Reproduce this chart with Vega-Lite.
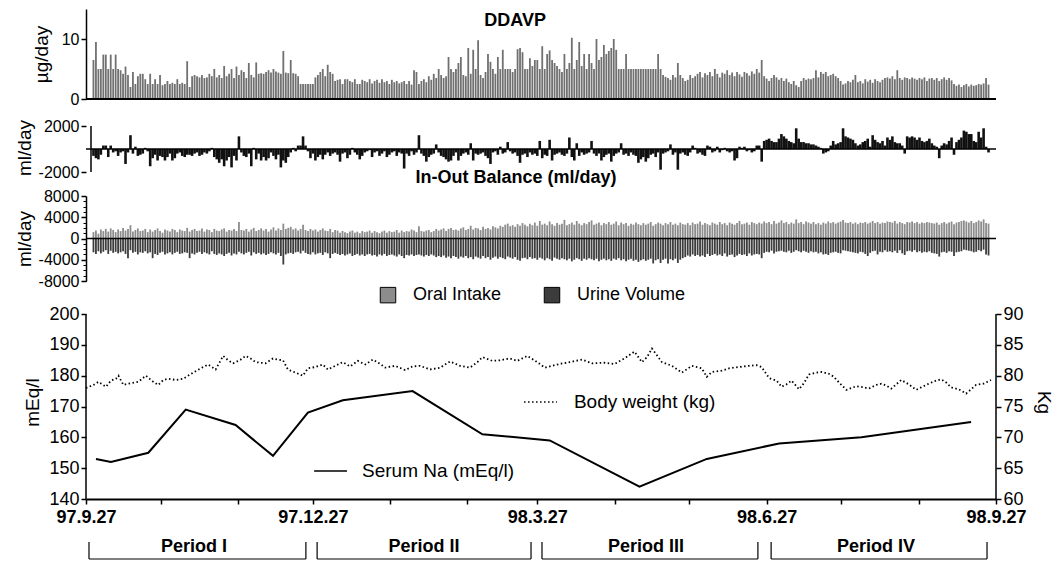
{
"$schema": "https://vega.github.io/schema/vega-lite/v6.json",
"background": "white",
"padding": {"left": 15, "top": 9, "right": 5, "bottom": 0},
"config": {
  "view": {"stroke": null},
  "font": "Liberation Sans",
  "axis": {"domainColor": "#000", "tickColor": "#000", "labelColor": "#000", "titleColor": "#000", "grid": false, "labelFont": "Liberation Sans", "titleFont": "Liberation Sans", "labelFontSize": 16, "titleFontSize": 19, "titleFontWeight": "normal", "domainWidth": 1.5, "tickWidth": 1.5, "tickSize": 5, "labelPadding": 2, "labelOverlap": false},
  "text": {"font": "Liberation Sans", "color": "#000"}
},
"datasets": {
"na": [{"d":4,"v":153},{"d":10,"v":152},{"d":25,"v":155},{"d":40,"v":169},{"d":60,"v":164},{"d":75,"v":154},{"d":89,"v":168},{"d":103,"v":172},{"d":131,"v":175},{"d":159,"v":161},{"d":186,"v":159},{"d":222,"v":144},{"d":249,"v":153},{"d":278,"v":158},{"d":311,"v":160},{"d":355,"v":165}],
"wt": [{"d":0,"w":78},{"d":3,"w":78.5},{"d":5,"w":79},{"d":8,"w":78.2},{"d":10,"w":79.2},{"d":12,"w":79.5},{"d":13,"w":80},{"d":15,"w":78.5},{"d":18,"w":78.8},{"d":21,"w":79},{"d":24,"w":80},{"d":27,"w":79},{"d":29,"w":78.5},{"d":31,"w":79.3},{"d":33,"w":79.5},{"d":36,"w":79.3},{"d":39,"w":79.5},{"d":43,"w":80.5},{"d":46,"w":81.2},{"d":49,"w":81.8},{"d":52,"w":81},{"d":55,"w":83.2},{"d":57,"w":82.5},{"d":59,"w":82},{"d":62,"w":82.6},{"d":64,"w":83.2},{"d":66,"w":82.8},{"d":68,"w":82.2},{"d":72,"w":82},{"d":75,"w":82.8},{"d":77,"w":82.6},{"d":79,"w":82.5},{"d":81,"w":81},{"d":84,"w":80.5},{"d":87,"w":80},{"d":89,"w":81.2},{"d":92,"w":81.4},{"d":95,"w":81.8},{"d":97,"w":81},{"d":100,"w":81.6},{"d":103,"w":82.2},{"d":106,"w":81.5},{"d":109,"w":82.4},{"d":112,"w":81.8},{"d":115,"w":82.6},{"d":118,"w":81.9},{"d":120,"w":81.3},{"d":124,"w":81.6},{"d":128,"w":80.9},{"d":131,"w":81.5},{"d":134,"w":81.6},{"d":138,"w":81},{"d":142,"w":81.3},{"d":146,"w":82.3},{"d":150,"w":81.6},{"d":154,"w":81.3},{"d":157,"w":82.2},{"d":159,"w":83},{"d":163,"w":82.4},{"d":166,"w":82.5},{"d":170,"w":82.8},{"d":173,"w":82.4},{"d":175,"w":82.8},{"d":177,"w":83.2},{"d":181,"w":82.2},{"d":184,"w":81.3},{"d":187,"w":81.6},{"d":190,"w":81.9},{"d":194,"w":82.2},{"d":199,"w":82.6},{"d":203,"w":82},{"d":208,"w":82.1},{"d":212,"w":81.9},{"d":216,"w":82.8},{"d":220,"w":83.9},{"d":223,"w":82.2},{"d":225,"w":83},{"d":227,"w":84.4},{"d":229,"w":83.3},{"d":231,"w":82.2},{"d":235,"w":81.6},{"d":239,"w":80.5},{"d":243,"w":81.6},{"d":247,"w":81.2},{"d":249,"w":79.8},{"d":251,"w":80.6},{"d":255,"w":80.8},{"d":258,"w":81.2},{"d":262,"w":81.4},{"d":266,"w":81.6},{"d":269,"w":81.7},{"d":271,"w":81.4},{"d":274,"w":79.6},{"d":277,"w":79.2},{"d":279,"w":78.2},{"d":281,"w":78.6},{"d":283,"w":79.2},{"d":286,"w":77.8},{"d":288,"w":78.8},{"d":290,"w":80.2},{"d":293,"w":80.5},{"d":295,"w":80.6},{"d":298,"w":80.3},{"d":300,"w":79.8},{"d":302,"w":78.9},{"d":305,"w":77.7},{"d":309,"w":78.3},{"d":312,"w":78.1},{"d":314,"w":77.9},{"d":317,"w":78.5},{"d":319,"w":78.7},{"d":321,"w":78.4},{"d":323,"w":77.9},{"d":325,"w":78.6},{"d":327,"w":79.3},{"d":330,"w":78.6},{"d":333,"w":77.7},{"d":336,"w":78.3},{"d":338,"w":78.7},{"d":341,"w":79.2},{"d":343,"w":79.4},{"d":345,"w":78.9},{"d":347,"w":78.1},{"d":350,"w":77.8},{"d":353,"w":77.1},{"d":355,"w":77.8},{"d":357,"w":78.5},{"d":360,"w":78.7},{"d":363,"w":79.3}],
"per": [{"p":"Period I","s":1.2,"e":88.2,"c":43.3},{"p":"Period II","s":92.7,"e":178.5,"c":135.6},{"p":"Period III","s":182.9,"e":269.5,"c":224.6},{"p":"Period IV","s":274.8,"e":361.4,"c":316.9}],
"daily": [
{"d":1,"a":6.5,"b":-600,"o":1200,"u":-2600},{"d":2,"a":9.5,"b":-800,"o":1500,"u":-2900},{"d":3,"a":5,"b":-900,"o":900,"u":-2400},{"d":4,"a":5,"b":-500,"o":1700,"u":-2800},{"d":5,"a":7.4,"b":300,"o":1400,"u":-2500},{"d":6,"a":7.4,"b":300,"o":1800,"u":-2200},{"d":7,"a":5,"b":-700,"o":1300,"u":-2900},{"d":8,"a":7.4,"b":300,"o":1900,"u":-2300},{"d":9,"a":5,"b":-300,"o":1600,"u":-2700},{"d":10,"a":7.4,"b":-200,"o":1200,"u":-2500},
{"d":11,"a":5,"b":-600,"o":1700,"u":-2800},{"d":12,"a":4.8,"b":-300,"o":1400,"u":-2600},{"d":13,"a":4.2,"b":-200,"o":2000,"u":-2400},{"d":14,"a":5.4,"b":-1300,"o":1500,"u":-2900},{"d":15,"a":4,"b":-300,"o":1800,"u":-3700},{"d":16,"a":2,"b":1200,"o":2500,"u":-2200},{"d":17,"a":4.5,"b":-400,"o":1300,"u":-2700},{"d":18,"a":2.5,"b":200,"o":1600,"u":-2500},{"d":19,"a":3.8,"b":-600,"o":1900,"u":-3000},{"d":20,"a":4.2,"b":-500,"o":1400,"u":-2600},
{"d":21,"a":4.2,"b":-400,"o":1500,"u":-2700},{"d":22,"a":3.3,"b":100,"o":1800,"u":-2400},{"d":23,"a":2.5,"b":-200,"o":1200,"u":-2800},{"d":24,"a":4.2,"b":-1500,"o":1700,"u":-2600},{"d":25,"a":2.5,"b":-800,"o":1300,"u":-3700},{"d":26,"a":3.3,"b":-500,"o":1600,"u":-2900},{"d":27,"a":2.5,"b":-1000,"o":1900,"u":-3100},{"d":28,"a":4,"b":-600,"o":1400,"u":-2700},{"d":29,"a":2.3,"b":-700,"o":1100,"u":-2500},{"d":30,"a":2.5,"b":-1000,"o":1700,"u":-3000},
{"d":31,"a":3,"b":-700,"o":1500,"u":-2800},{"d":32,"a":2.5,"b":-400,"o":1300,"u":-2600},{"d":33,"a":2.7,"b":-1000,"o":1800,"u":-3000},{"d":34,"a":2.5,"b":-800,"o":1600,"u":-2700},{"d":35,"a":3.3,"b":-400,"o":1200,"u":-2500},{"d":36,"a":2.5,"b":-300,"o":1700,"u":-2900},{"d":37,"a":2.7,"b":-600,"o":1500,"u":-2800},{"d":38,"a":2.5,"b":-700,"o":1400,"u":-2600},{"d":39,"a":6.3,"b":-500,"o":2000,"u":-2700},{"d":40,"a":2,"b":-500,"o":1300,"u":-3700},
{"d":41,"a":3.8,"b":-600,"o":1600,"u":-2800},{"d":42,"a":4,"b":-400,"o":1800,"u":-3000},{"d":43,"a":3.8,"b":-300,"o":1400,"u":-2700},{"d":44,"a":3.6,"b":-600,"o":1500,"u":-2500},{"d":45,"a":4,"b":-500,"o":1900,"u":-2900},{"d":46,"a":3.5,"b":-300,"o":1300,"u":-2600},{"d":47,"a":3.6,"b":-400,"o":1700,"u":-2800},{"d":48,"a":4.2,"b":-200,"o":1600,"u":-3000},{"d":49,"a":3.8,"b":100,"o":1200,"u":-2400},{"d":50,"a":5,"b":-700,"o":1800,"u":-2900},
{"d":51,"a":3.6,"b":-900,"o":1500,"u":-3100},{"d":52,"a":4,"b":-1200,"o":1400,"u":-2800},{"d":53,"a":3.5,"b":-900,"o":1700,"u":-3000},{"d":54,"a":5.5,"b":-1500,"o":1900,"u":-3300},{"d":55,"a":3.8,"b":-1000,"o":1300,"u":-2900},{"d":56,"a":4.2,"b":-700,"o":1600,"u":-2700},{"d":57,"a":5,"b":-1600,"o":1500,"u":-3200},{"d":58,"a":3.5,"b":-600,"o":1800,"u":-2800},{"d":59,"a":5.4,"b":-1000,"o":1400,"u":-3000},{"d":60,"a":4,"b":1100,"o":3100,"u":-2500},
{"d":61,"a":4.8,"b":-300,"o":1600,"u":-2800},{"d":62,"a":4.5,"b":-600,"o":1500,"u":-3000},{"d":63,"a":3.5,"b":-700,"o":1800,"u":-2700},{"d":64,"a":6,"b":-400,"o":1300,"u":-2500},{"d":65,"a":4,"b":-1500,"o":1700,"u":-3200},{"d":66,"a":3.6,"b":100,"o":2000,"u":-2600},{"d":67,"a":6.1,"b":-900,"o":1400,"u":-2900},{"d":68,"a":4.2,"b":-400,"o":1600,"u":-2700},{"d":69,"a":4.3,"b":-1000,"o":1900,"u":-3000},{"d":70,"a":4.2,"b":-700,"o":1500,"u":-2800},
{"d":71,"a":4.5,"b":-1000,"o":1800,"u":-3100},{"d":72,"a":4.8,"b":-800,"o":1300,"u":-2900},{"d":73,"a":4.4,"b":-300,"o":1700,"u":-2600},{"d":74,"a":5,"b":-600,"o":2100,"u":-2800},{"d":75,"a":4.6,"b":-900,"o":1500,"u":-3000},{"d":76,"a":4.4,"b":-500,"o":1900,"u":-2700},{"d":77,"a":4.2,"b":-1600,"o":1600,"u":-3300},{"d":78,"a":8,"b":-1000,"o":2800,"u":-4900},{"d":79,"a":4.4,"b":-1200,"o":1800,"u":-3000},{"d":80,"a":4.3,"b":-700,"o":2000,"u":-2800},
{"d":81,"a":6.5,"b":-300,"o":2200,"u":-2700},{"d":82,"a":4.3,"b":100,"o":1700,"u":-2900},{"d":83,"a":4.2,"b":-200,"o":1900,"u":-2600},{"d":84,"a":3.8,"b":300,"o":1500,"u":-2500},{"d":85,"a":2.5,"b":300,"o":1800,"u":-2800},{"d":86,"a":2.5,"b":1100,"o":2600,"u":-2300},{"d":87,"a":2.5,"b":300,"o":1600,"u":-2700},{"d":88,"a":2.5,"b":-200,"o":1400,"u":-2900},{"d":89,"a":2.5,"b":-800,"o":1800,"u":-3000},{"d":90,"a":2.5,"b":-400,"o":1500,"u":-2600},
{"d":91,"a":3.6,"b":-1000,"o":1700,"u":-3000},{"d":92,"a":4,"b":-700,"o":1300,"u":-2800},{"d":93,"a":4.5,"b":-500,"o":1600,"u":-2700},{"d":94,"a":5,"b":-900,"o":1900,"u":-3100},{"d":95,"a":3.8,"b":-500,"o":1500,"u":-2600},{"d":96,"a":5.7,"b":-300,"o":1400,"u":-2800},{"d":97,"a":4.5,"b":-600,"o":1800,"u":-3700},{"d":98,"a":4.2,"b":-400,"o":1200,"u":-2900},{"d":99,"a":3,"b":-300,"o":1600,"u":-2700},{"d":100,"a":3.2,"b":-500,"o":1500,"u":-2900},
{"d":101,"a":3.3,"b":-1100,"o":1100,"u":-3100},{"d":102,"a":2.5,"b":-400,"o":1400,"u":-2900},{"d":103,"a":3.3,"b":-300,"o":1200,"u":-3200},{"d":104,"a":3.3,"b":-800,"o":1000,"u":-3000},{"d":105,"a":3,"b":-500,"o":1300,"u":-2800},{"d":106,"a":2.8,"b":100,"o":1500,"u":-3300},{"d":107,"a":3.3,"b":-300,"o":1100,"u":-3100},{"d":108,"a":2.5,"b":-500,"o":1300,"u":-2900},{"d":109,"a":2.5,"b":-900,"o":1000,"u":-3200},{"d":110,"a":3.2,"b":-600,"o":1400,"u":-3000},
{"d":111,"a":3,"b":-300,"o":1200,"u":-3300},{"d":112,"a":2.8,"b":-200,"o":1300,"u":-3000},{"d":113,"a":3.3,"b":-100,"o":1500,"u":-2900},{"d":114,"a":2.6,"b":-700,"o":1100,"u":-3200},{"d":115,"a":3,"b":-300,"o":1400,"u":-3100},{"d":116,"a":3.2,"b":-200,"o":1200,"u":-3400},{"d":117,"a":2.7,"b":-600,"o":1000,"u":-3000},{"d":118,"a":3.3,"b":-400,"o":1300,"u":-3200},{"d":119,"a":2.8,"b":-200,"o":1500,"u":-2900},{"d":120,"a":3,"b":-700,"o":1100,"u":-3300},
{"d":121,"a":2.5,"b":-500,"o":1400,"u":-3100},{"d":122,"a":3.2,"b":-300,"o":1200,"u":-3000},{"d":123,"a":2.8,"b":-200,"o":1300,"u":-3200},{"d":124,"a":3,"b":-600,"o":1600,"u":-3400},{"d":125,"a":2.6,"b":-300,"o":1100,"u":-3000},{"d":126,"a":2.8,"b":-400,"o":1500,"u":-3300},{"d":127,"a":3,"b":-1700,"o":1200,"u":-3700},{"d":128,"a":2.5,"b":-400,"o":1400,"u":-3100},{"d":129,"a":3,"b":-600,"o":1300,"u":-3200},{"d":130,"a":2.4,"b":-200,"o":1700,"u":-3000},
{"d":131,"a":4.8,"b":-500,"o":1500,"u":-3300},{"d":132,"a":4.5,"b":-300,"o":1200,"u":-3100},{"d":133,"a":2.5,"b":1200,"o":2300,"u":-3000},{"d":134,"a":3,"b":-400,"o":1400,"u":-3200},{"d":135,"a":3.3,"b":-600,"o":1300,"u":-3400},{"d":136,"a":2.8,"b":-1100,"o":1500,"u":-3100},{"d":137,"a":3.8,"b":-700,"o":1600,"u":-3300},{"d":138,"a":3.2,"b":-500,"o":1200,"u":-3000},{"d":139,"a":4.2,"b":-400,"o":1400,"u":-3200},{"d":140,"a":3.5,"b":400,"o":1800,"u":-3500},
{"d":141,"a":5,"b":-300,"o":1500,"u":-3300},{"d":142,"a":4,"b":-600,"o":1700,"u":-3500},{"d":143,"a":3.5,"b":-700,"o":1900,"u":-3200},{"d":144,"a":3.8,"b":-900,"o":1400,"u":-3600},{"d":145,"a":7,"b":-1100,"o":1800,"u":-3400},{"d":146,"a":5,"b":-1000,"o":2000,"u":-3700},{"d":147,"a":4.5,"b":-600,"o":1600,"u":-3300},{"d":148,"a":5,"b":-300,"o":1700,"u":-3500},{"d":149,"a":6,"b":-1000,"o":1500,"u":-3800},{"d":150,"a":7,"b":-600,"o":1900,"u":-3400},
{"d":151,"a":4,"b":-400,"o":2100,"u":-3600},{"d":152,"a":3.8,"b":-300,"o":1600,"u":-3300},{"d":153,"a":8.5,"b":-500,"o":1800,"u":-3700},{"d":154,"a":4.2,"b":500,"o":2400,"u":-3500},{"d":155,"a":8.2,"b":-1000,"o":1700,"u":-3900},{"d":156,"a":5,"b":-400,"o":2000,"u":-3400},{"d":157,"a":9.8,"b":-500,"o":1900,"u":-3600},{"d":158,"a":4,"b":-400,"o":1600,"u":-3800},{"d":159,"a":3.5,"b":-300,"o":2200,"u":-3300},{"d":160,"a":4.5,"b":-600,"o":1800,"u":-3700},
{"d":161,"a":7.5,"b":-800,"o":2000,"u":-3500},{"d":162,"a":6.2,"b":-1300,"o":1700,"u":-4000},{"d":163,"a":5,"b":-300,"o":2300,"u":-3600},{"d":164,"a":4.2,"b":-200,"o":2100,"u":-3400},{"d":165,"a":7,"b":-500,"o":1900,"u":-3800},{"d":166,"a":5,"b":200,"o":2400,"u":-3500},{"d":167,"a":8.2,"b":-400,"o":2200,"u":-3700},{"d":168,"a":5,"b":-300,"o":2600,"u":-3900},{"d":169,"a":5,"b":600,"o":2800,"u":-3400},{"d":170,"a":5,"b":-200,"o":2300,"u":-3600},
{"d":171,"a":4.5,"b":-400,"o":2500,"u":-3800},{"d":172,"a":5,"b":-300,"o":2200,"u":-3500},{"d":173,"a":8.3,"b":-600,"o":2700,"u":-4000},{"d":174,"a":8.5,"b":-1200,"o":2400,"u":-4200},{"d":175,"a":7.8,"b":-500,"o":2900,"u":-3700},{"d":176,"a":5,"b":-400,"o":2600,"u":-3600},{"d":177,"a":5,"b":-700,"o":2300,"u":-3900},{"d":178,"a":6.8,"b":-300,"o":2800,"u":-3500},{"d":179,"a":5.5,"b":-500,"o":2500,"u":-3800},{"d":180,"a":6.5,"b":-400,"o":3000,"u":-3700},
{"d":181,"a":6.5,"b":-600,"o":2400,"u":-4000},{"d":182,"a":5,"b":700,"o":3300,"u":-3600},{"d":183,"a":8.8,"b":-800,"o":2600,"u":-3800},{"d":184,"a":5,"b":-500,"o":2800,"u":-4100},{"d":185,"a":7.5,"b":-600,"o":2500,"u":-3700},{"d":186,"a":8.1,"b":800,"o":3200,"u":-3900},{"d":187,"a":6.5,"b":-1000,"o":2700,"u":-4200},{"d":188,"a":6,"b":-500,"o":2400,"u":-3600},{"d":189,"a":5.5,"b":-400,"o":2900,"u":-3800},{"d":190,"a":5,"b":-300,"o":2600,"u":-4000},
{"d":191,"a":4.5,"b":-500,"o":2800,"u":-3700},{"d":192,"a":7.5,"b":-600,"o":3500,"u":-3900},{"d":193,"a":5,"b":-400,"o":2500,"u":-4100},{"d":194,"a":6,"b":1000,"o":2700,"u":-3800},{"d":195,"a":10.2,"b":-700,"o":3000,"u":-4300},{"d":196,"a":5,"b":-1000,"o":2600,"u":-4000},{"d":197,"a":6.5,"b":500,"o":3300,"u":-3700},{"d":198,"a":9.5,"b":-600,"o":2800,"u":-3900},{"d":199,"a":5.5,"b":-300,"o":2500,"u":-4200},{"d":200,"a":7.5,"b":-500,"o":2900,"u":-3800},
{"d":201,"a":5,"b":-400,"o":2700,"u":-4000},{"d":202,"a":7.5,"b":-300,"o":3100,"u":-3700},{"d":203,"a":6,"b":700,"o":3400,"u":-3900},{"d":204,"a":5,"b":-400,"o":2600,"u":-4100},{"d":205,"a":10,"b":-600,"o":2800,"u":-3800},{"d":206,"a":6.5,"b":-400,"o":3000,"u":-4300},{"d":207,"a":7,"b":-1000,"o":2500,"u":-4000},{"d":208,"a":9,"b":-700,"o":2900,"u":-3800},{"d":209,"a":7.5,"b":-500,"o":2700,"u":-4100},{"d":210,"a":8,"b":-400,"o":3100,"u":-3900},
{"d":211,"a":8.5,"b":-1100,"o":2600,"u":-4200},{"d":212,"a":10,"b":-600,"o":2800,"u":-3800},{"d":213,"a":8.2,"b":-400,"o":3200,"u":-4000},{"d":214,"a":5,"b":-300,"o":2500,"u":-3700},{"d":215,"a":5,"b":500,"o":3000,"u":-4100},{"d":216,"a":5,"b":-500,"o":2700,"u":-3900},{"d":217,"a":7.5,"b":-400,"o":2900,"u":-4300},{"d":218,"a":5,"b":-600,"o":2400,"u":-4000},{"d":219,"a":5,"b":-300,"o":2800,"u":-3800},{"d":220,"a":5,"b":-500,"o":2600,"u":-4200},
{"d":221,"a":5,"b":-600,"o":3000,"u":-4000},{"d":222,"a":5,"b":-1200,"o":2700,"u":-4400},{"d":223,"a":5,"b":-900,"o":2500,"u":-4100},{"d":224,"a":5,"b":-700,"o":2900,"u":-3900},{"d":225,"a":5,"b":-1100,"o":2600,"u":-4200},{"d":226,"a":5,"b":-800,"o":2800,"u":-4000},{"d":227,"a":5,"b":-500,"o":3100,"u":-3800},{"d":228,"a":5,"b":-400,"o":2400,"u":-4700},{"d":229,"a":5,"b":-700,"o":2700,"u":-4100},{"d":230,"a":7.5,"b":-300,"o":3000,"u":-3900},
{"d":231,"a":5,"b":-1800,"o":2800,"u":-4600},{"d":232,"a":4,"b":-400,"o":2500,"u":-4000},{"d":233,"a":3.7,"b":-300,"o":2900,"u":-3800},{"d":234,"a":3.5,"b":-200,"o":2700,"u":-4700},{"d":235,"a":3.2,"b":400,"o":3100,"u":-3900},{"d":236,"a":4,"b":-500,"o":2600,"u":-4100},{"d":237,"a":3.6,"b":-300,"o":2800,"u":-3800},{"d":238,"a":6,"b":-1800,"o":2500,"u":-4600},{"d":239,"a":4,"b":-400,"o":3000,"u":-4000},{"d":240,"a":3.5,"b":-300,"o":2700,"u":-3700},
{"d":241,"a":3,"b":-500,"o":2600,"u":-3500},{"d":242,"a":3.2,"b":-600,"o":2900,"u":-3200},{"d":243,"a":4,"b":-300,"o":2500,"u":-3400},{"d":244,"a":3.5,"b":300,"o":3000,"u":-3000},{"d":245,"a":3.8,"b":100,"o":2700,"u":-3300},{"d":246,"a":4.2,"b":-400,"o":2800,"u":-3100},{"d":247,"a":4.5,"b":-300,"o":3200,"u":-3400},{"d":248,"a":3.6,"b":-500,"o":2600,"u":-3200},{"d":249,"a":4.3,"b":-600,"o":2900,"u":-3500},{"d":250,"a":4,"b":300,"o":2700,"u":-2900},
{"d":251,"a":4.5,"b":200,"o":2500,"u":-3300},{"d":252,"a":3.8,"b":-300,"o":3000,"u":-3100},{"d":253,"a":5,"b":-200,"o":2800,"u":-2900},{"d":254,"a":4.2,"b":200,"o":2600,"u":-3200},{"d":255,"a":3.6,"b":-300,"o":3100,"u":-3000},{"d":256,"a":4.4,"b":-100,"o":2700,"u":-3300},{"d":257,"a":4.2,"b":100,"o":2900,"u":-2800},{"d":258,"a":4.8,"b":-200,"o":2500,"u":-3400},{"d":259,"a":4,"b":-300,"o":3000,"u":-3100},{"d":260,"a":4.4,"b":-200,"o":2800,"u":-3000},
{"d":261,"a":3.8,"b":-1000,"o":2600,"u":-3500},{"d":262,"a":4.5,"b":-800,"o":2900,"u":-3200},{"d":263,"a":4.1,"b":200,"o":3300,"u":-2900},{"d":264,"a":3.7,"b":100,"o":2700,"u":-3100},{"d":265,"a":4.5,"b":200,"o":2800,"u":-3000},{"d":266,"a":4.3,"b":-200,"o":3000,"u":-3300},{"d":267,"a":3.9,"b":-100,"o":2600,"u":-2800},{"d":268,"a":4.6,"b":-300,"o":3100,"u":-3200},{"d":269,"a":4.2,"b":-200,"o":2900,"u":-3000},{"d":270,"a":5,"b":300,"o":2700,"u":-2900},
{"d":271,"a":4.4,"b":300,"o":3000,"u":-3000},{"d":272,"a":6.5,"b":-1100,"o":2800,"u":-3700},{"d":273,"a":3.8,"b":700,"o":3200,"u":-2700},{"d":274,"a":3.4,"b":800,"o":2900,"u":-2500},{"d":275,"a":3,"b":900,"o":3100,"u":-2600},{"d":276,"a":3.5,"b":700,"o":2700,"u":-2300},{"d":277,"a":4,"b":600,"o":3300,"u":-2800},{"d":278,"a":3.6,"b":600,"o":2800,"u":-2500},{"d":279,"a":3.2,"b":900,"o":3000,"u":-2400},{"d":280,"a":3.5,"b":1300,"o":3400,"u":-2300},
{"d":281,"a":3,"b":1100,"o":2900,"u":-2500},{"d":282,"a":3.4,"b":900,"o":3100,"u":-2600},{"d":283,"a":2.8,"b":700,"o":2700,"u":-2300},{"d":284,"a":2.5,"b":600,"o":3000,"u":-2700},{"d":285,"a":3,"b":500,"o":2800,"u":-2500},{"d":286,"a":2.3,"b":1800,"o":3600,"u":-2200},{"d":287,"a":2,"b":900,"o":2900,"u":-2400},{"d":288,"a":3,"b":600,"o":3100,"u":-2600},{"d":289,"a":3.5,"b":600,"o":2700,"u":-2300},{"d":290,"a":3.2,"b":500,"o":3200,"u":-2500},
{"d":291,"a":3.4,"b":500,"o":3000,"u":-2700},{"d":292,"a":3.3,"b":400,"o":2800,"u":-2400},{"d":293,"a":3.5,"b":400,"o":3100,"u":-2600},{"d":294,"a":4.8,"b":300,"o":2700,"u":-2500},{"d":295,"a":3.6,"b":200,"o":2900,"u":-2800},{"d":296,"a":4.5,"b":100,"o":2600,"u":-2600},{"d":297,"a":4.2,"b":-400,"o":3000,"u":-3000},{"d":298,"a":4.5,"b":-300,"o":2800,"u":-2900},{"d":299,"a":3.8,"b":-200,"o":3200,"u":-3100},{"d":300,"a":4,"b":300,"o":2900,"u":-2700},
{"d":301,"a":4.2,"b":700,"o":3100,"u":-2600},{"d":302,"a":3.8,"b":400,"o":2800,"u":-2500},{"d":303,"a":3.5,"b":500,"o":3000,"u":-2700},{"d":304,"a":3,"b":600,"o":3200,"u":-2800},{"d":305,"a":2.4,"b":1800,"o":3500,"u":-2200},{"d":306,"a":2.6,"b":1100,"o":3000,"u":-2300},{"d":307,"a":3,"b":1000,"o":2900,"u":-2400},{"d":308,"a":2.8,"b":900,"o":3100,"u":-2500},{"d":309,"a":3.2,"b":800,"o":2800,"u":-2600},{"d":310,"a":4,"b":500,"o":3000,"u":-2700},
{"d":311,"a":2.8,"b":300,"o":2700,"u":-2800},{"d":312,"a":3,"b":400,"o":3000,"u":-2500},{"d":313,"a":2.6,"b":600,"o":2900,"u":-2600},{"d":314,"a":3.3,"b":700,"o":3100,"u":-2900},{"d":315,"a":2.9,"b":900,"o":2800,"u":-3300},{"d":316,"a":3.2,"b":200,"o":3000,"u":-2700},{"d":317,"a":2.7,"b":1200,"o":3300,"u":-2400},{"d":318,"a":3.3,"b":800,"o":2900,"u":-2300},{"d":319,"a":3,"b":600,"o":3100,"u":-3000},{"d":320,"a":2.8,"b":500,"o":2800,"u":-2500},
{"d":321,"a":3.2,"b":700,"o":3000,"u":-2600},{"d":322,"a":3.5,"b":300,"o":2900,"u":-2200},{"d":323,"a":3.6,"b":1000,"o":3200,"u":-2500},{"d":324,"a":3.4,"b":800,"o":3100,"u":-2400},{"d":325,"a":3.8,"b":1100,"o":3000,"u":-2600},{"d":326,"a":3.3,"b":600,"o":3300,"u":-2300},{"d":327,"a":4.8,"b":500,"o":2800,"u":-2700},{"d":328,"a":3.5,"b":500,"o":3100,"u":-2200},{"d":329,"a":3.2,"b":300,"o":2900,"u":-2800},{"d":330,"a":3.6,"b":-400,"o":2700,"u":-3100},
{"d":331,"a":3.5,"b":1100,"o":3100,"u":-2400},{"d":332,"a":3.3,"b":1000,"o":3000,"u":-2300},{"d":333,"a":3.6,"b":1100,"o":3200,"u":-2500},{"d":334,"a":3.4,"b":1000,"o":2900,"u":-2200},{"d":335,"a":3.2,"b":800,"o":3100,"u":-2600},{"d":336,"a":3.5,"b":1000,"o":2800,"u":-2400},{"d":337,"a":3.3,"b":700,"o":3000,"u":-2700},{"d":338,"a":3.6,"b":600,"o":2900,"u":-2500},{"d":339,"a":3,"b":700,"o":3100,"u":-2600},{"d":340,"a":3.4,"b":900,"o":3000,"u":-2400},
{"d":341,"a":3.5,"b":500,"o":2900,"u":-2700},{"d":342,"a":3.2,"b":300,"o":2800,"u":-2800},{"d":343,"a":3.5,"b":200,"o":3000,"u":-2900},{"d":344,"a":3,"b":-800,"o":2600,"u":-3400},{"d":345,"a":3.3,"b":300,"o":2900,"u":-2600},{"d":346,"a":3.6,"b":500,"o":3100,"u":-2500},{"d":347,"a":3.2,"b":400,"o":2800,"u":-2700},{"d":348,"a":3.5,"b":700,"o":3000,"u":-2400},{"d":349,"a":3.1,"b":1000,"o":3200,"u":-2500},{"d":350,"a":2.5,"b":-500,"o":2700,"u":-3300},
{"d":351,"a":2.2,"b":600,"o":3000,"u":-2600},{"d":352,"a":2.4,"b":800,"o":3100,"u":-2500},{"d":353,"a":2,"b":1000,"o":3300,"u":-2400},{"d":354,"a":2.3,"b":1600,"o":3400,"u":-2100},{"d":355,"a":2.5,"b":1500,"o":3200,"u":-2200},{"d":356,"a":2.1,"b":1300,"o":3000,"u":-2300},{"d":357,"a":2.4,"b":1300,"o":3300,"u":-2400},{"d":358,"a":2.2,"b":700,"o":2900,"u":-2600},{"d":359,"a":2.3,"b":600,"o":3100,"u":-2500},{"d":360,"a":2.5,"b":1500,"o":3400,"u":-2200},
{"d":361,"a":2.4,"b":1000,"o":3200,"u":-2400},{"d":362,"a":2.6,"b":1800,"o":3600,"u":-2100},{"d":363,"a":3.5,"b":200,"o":2900,"u":-3000},{"d":364,"a":2.4,"b":-300,"o":2800,"u":-3200}
]
},
"spacing": 24,
"bounds": "flush",
"vconcat": [
 {
  "width": 910, "height": 90,
  "layer": [
   {"data": {"name": "daily"}, "mark": {"type": "bar", "size": 1.8, "color": "#707070"},
    "encoding": {
     "x": {"field": "d", "type": "quantitative", "scale": {"domain": [0, 365], "nice": false, "zero": false}, "axis": null},
     "y": {"field": "a", "type": "quantitative", "scale": {"domain": [0, 15], "nice": false}, "axis": {"values": [0, 10], "labelExpr": "'' + datum.value", "title": "µg/day", "titlePadding": 10}}
    }},
   {"data": {"values": [{"z": 0}]}, "mark": {"type": "rule", "color": "#000", "strokeWidth": 2}, "encoding": {"y": {"field": "z", "type": "quantitative"}}},
   {"data": {"values": [{"t": "DDAVP", "x": 172, "y": 13}]}, "mark": {"type": "text", "fontSize": 18, "fontWeight": "bold", "baseline": "middle"},
    "encoding": {"x": {"field": "x", "type": "quantitative"}, "y": {"field": "y", "type": "quantitative"}, "text": {"field": "t"}}}
  ]
 },
 {
  "width": 910, "height": 49,
  "layer": [
   {"data": {"name": "daily"}, "mark": {"type": "bar", "size": 2.6, "color": "#111"},
    "encoding": {
     "x": {"field": "d", "type": "quantitative", "scale": {"domain": [0, 365], "nice": false, "zero": false}, "axis": null},
     "y": {"field": "b", "type": "quantitative", "scale": {"domain": [-2000, 2261], "nice": false}, "axis": {"values": [-2000, 0, 2000], "labelExpr": "'' + datum.value", "title": "ml/day", "titlePadding": 4, "domain": false}}
    }},
   {"data": {"values": [{"z": 0}]}, "mark": {"type": "rule", "color": "#000", "strokeWidth": 1.5}, "encoding": {"y": {"field": "z", "type": "quantitative"}}},
   {"data": {"values": [{"x": 0, "y": -2000, "y2": 2000}]}, "mark": {"type": "rule", "color": "#000", "strokeWidth": 1.5},
    "encoding": {"x": {"field": "x", "type": "quantitative"}, "y": {"field": "y", "type": "quantitative"}, "y2": {"field": "y2"}}}
  ]
 },
 {
  "width": 910, "height": 85,
  "title": {"text": "In-Out Balance (ml/day)", "fontSize": 18, "fontWeight": "bold", "font": "Liberation Sans", "color": "#000", "anchor": "middle", "offset": 1, "dx": -25},
  "layer": [
   {"data": {"name": "daily"}, "mark": {"type": "bar", "size": 1.8},
    "encoding": {
     "x": {"field": "d", "type": "quantitative", "scale": {"domain": [0, 365], "nice": false, "zero": false}, "axis": null},
     "y": {"field": "o", "type": "quantitative", "scale": {"domain": [-8000, 8000], "nice": false}, "axis": {"values": [-8000, -4000, 0, 4000, 8000], "labelExpr": "'' + datum.value", "title": "ml/day", "titlePadding": 4}},
     "color": {"datum": "Oral Intake", "type": "nominal", "scale": {"domain": ["Oral Intake", "Urine Volume"], "range": ["#8c8c8c", "#3c3c3c"]},
      "legend": {"orient": "none", "legendX": 293, "legendY": 277, "direction": "horizontal", "title": null, "symbolType": "square", "symbolSize": 240, "symbolStrokeColor": "#000", "symbolStrokeWidth": 1, "labelFontSize": 18, "labelFont": "Liberation Sans", "labelColor": "#000", "labelOffset": 16, "columnPadding": 40}}
    }},
   {"data": {"name": "daily"}, "mark": {"type": "bar", "size": 1.8},
    "encoding": {
     "x": {"field": "d", "type": "quantitative"},
     "y": {"field": "u", "type": "quantitative", "axis": null},
     "color": {"datum": "Urine Volume", "type": "nominal"}
    }},
   {"data": {"values": [{"z": 0}]}, "mark": {"type": "rule", "color": "#000", "strokeWidth": 1.5},
    "encoding": {"y": {"field": "z", "type": "quantitative", "axis": {"orient": "left", "values": [-8000,-7000,-6000,-5000,-3000,-2000,-1000,1000,2000,3000,5000,6000,7000], "labels": false, "tickSize": 3, "tickWidth": 1, "title": null, "domain": false}}}}
  ],
  "resolve": {"axis": {"y": "independent"}}
 },
 {
  "width": 910, "height": 194,
  "layer": [
   {"encoding": {
      "x": {"field": "d", "type": "quantitative", "scale": {"domain": [0, 365], "nice": false, "zero": false},
        "axis": {"values": [0,30,61,91,122,153,181,212,242,273,303,334,365], "labelExpr": "datum.value == 0 ? '97.9.27' : datum.value == 91 ? '97.12.27' : datum.value == 181 ? '98.3.27' : datum.value == 273 ? '98.6.27' : datum.value == 365 ? '98.9.27' : ''", "labelFontSize": 18, "labelFontWeight": "bold", "labelFlush": false, "labelOverlap": false, "labelPadding": 4, "title": null, "domainWidth": 2}},
      "y": {"field": "v", "type": "quantitative", "scale": {"domain": [140, 202.92], "nice": false, "zero": false}, "axis": {"values": [140,150,160,170,180,190,200], "labelExpr": "'' + datum.value", "labelOverlap": false, "title": "mEq/l", "labelFontSize": 18, "titlePadding": 6, "domain": false}}
    },
    "layer": [
     {"data": {"name": "na"}, "mark": {"type": "line", "color": "#000", "strokeWidth": 2}},
     {"data": {"values": [{"d": 0, "v": 140, "v2": 200}, {"d": 365, "v": 140, "v2": 200}]}, "mark": {"type": "rule", "color": "#000", "strokeWidth": 1.5},
      "encoding": {"y2": {"field": "v2"}}},
     {"data": {"values": [{"d": 91.5, "d2": 104.7, "v": 149.1}]}, "mark": {"type": "rule", "color": "#000", "strokeWidth": 1.5},
      "encoding": {"x2": {"field": "d2"}}},
     {"data": {"values": [{"d": 175.7, "d2": 188.9, "v": 171.5}]}, "mark": {"type": "rule", "color": "#000", "strokeWidth": 1.5, "strokeDash": [1.5, 2.5]},
      "encoding": {"x2": {"field": "d2"}}},
     {"data": {"values": [{"d": 110.7, "v": 149.1, "t": "Serum Na (mEq/l)"}, {"d": 195.7, "v": 171.5, "t": "Body weight (kg)"}]}, "mark": {"type": "text", "fontSize": 19, "align": "left", "baseline": "middle"},
      "encoding": {"text": {"field": "t"}}}
   ]},
   {"data": {"name": "wt"}, "mark": {"type": "line", "color": "#000", "strokeWidth": 1.8, "strokeDash": [1.5, 2.5]},
    "encoding": {
     "x": {"field": "d", "type": "quantitative"},
     "y": {"field": "w", "type": "quantitative", "scale": {"domain": [60, 91.46], "nice": false, "zero": false}, "axis": {"orient": "right", "values": [60,65,70,75,80,85,90], "title": "Kg", "labelFontSize": 18, "titlePadding": 10, "domain": false}}
    }}
  ],
  "resolve": {"scale": {"y": "independent"}}
 },
 {
  "width": 910, "height": 36,
  "data": {"name": "per"},
  "layer": [
   {"mark": {"type": "rule", "color": "#000", "strokeWidth": 1.2},
    "encoding": {"x": {"field": "s", "type": "quantitative", "scale": {"domain": [0, 365], "nice": false, "zero": false}, "axis": null}, "y": {"datum": 0.47, "type": "quantitative", "scale": {"domain": [0, 1], "nice": false}, "axis": null}, "y2": {"datum": 0}}},
   {"mark": {"type": "rule", "color": "#000", "strokeWidth": 1.2},
    "encoding": {"x": {"field": "e", "type": "quantitative"}, "y": {"datum": 0.47, "type": "quantitative"}, "y2": {"datum": 0}}},
   {"mark": {"type": "rule", "color": "#000", "strokeWidth": 1.2},
    "encoding": {"x": {"field": "s", "type": "quantitative"}, "x2": {"field": "e"}, "y": {"datum": 0, "type": "quantitative"}}},
   {"mark": {"type": "text", "fontSize": 18, "fontWeight": "bold", "baseline": "middle"},
    "encoding": {"x": {"field": "c", "type": "quantitative"}, "y": {"datum": 0.32, "type": "quantitative"}, "text": {"field": "p"}}}
  ]
 }
]
}
